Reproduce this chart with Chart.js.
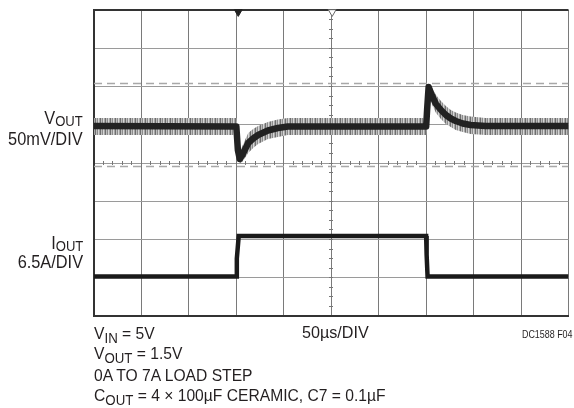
<!DOCTYPE html>
<html><head><meta charset="utf-8">
<script src="https://cdn.jsdelivr.net/npm/chart.js@4.4.1/dist/chart.umd.min.js"></script>
<style>
html,body{margin:0;padding:0;background:#fff;}
#wrap{position:relative;width:574px;height:408px;overflow:hidden;background:#fff;}
#c{position:absolute;left:0;top:0;}
.t{position:absolute;white-space:nowrap;font-family:"Liberation Sans",Arial,sans-serif;color:#231f20;}
.l{font-size:19px;line-height:19px;right:491px;transform:scaleX(0.86);transform-origin:right center;}
.b{font-size:17px;line-height:17px;left:94px;transform:scaleX(0.92);transform-origin:left center;}
.l .s{font-size:0.8em;position:relative;top:0.12em;}
.b .s{font-size:0.85em;position:relative;top:0.25em;}
</style>
</head><body>
<div id="wrap">
<canvas id="c" width="574" height="408"></canvas>
<div class="t l" style="top:108px">V<span class="s">OUT</span></div>
<div class="t l" style="top:129px">50mV/DIV</div>
<div class="t l" style="top:233px">I<span class="s">OUT</span></div>
<div class="t l" style="top:252px">6.5A/DIV</div>
<div class="t b" style="top:325px">V<span class="s">IN</span> = 5V</div>
<div class="t b" style="top:345px">V<span class="s">OUT</span> = 1.5V</div>
<div class="t b" style="top:367px">0A TO 7A LOAD STEP</div>
<div class="t b" style="top:387px">C<span class="s">OUT</span> = 4 × 100µF CERAMIC, C7 = 0.1µF</div>
<div class="t" style="top:324px;left:302px;font-size:17px;line-height:17px;transform:scaleX(0.95);transform-origin:left center;">50µs/DIV</div>
<div class="t" style="top:329px;right:1px;font-size:10.5px;line-height:10.5px;transform:scaleX(0.85);transform-origin:right center;">DC1588 F04</div>
</div>
<script>
// ---- data (x in µs, y in screen divisions from bottom) ----
const vTime = [0,150,151.6,153.6,156.25,162.5,167.7,172.9,183.3,193.75,204.2,350,351,352.6,356.25,360.4,365.6,370.8,376,381.25,388.5,396.9,412.5,500];
const vMid  = [4.967,4.954,4.340,4.105,4.209,4.523,4.641,4.732,4.850,4.915,4.954,4.954,5.386,5.987,5.752,5.542,5.386,5.255,5.163,5.098,5.033,4.993,4.967,4.967];
const vHigh = [5.176,5.176,4.758,4.288,4.444,4.784,4.889,4.967,5.072,5.137,5.176,5.176,5.647,6.065,5.961,5.778,5.621,5.490,5.386,5.320,5.255,5.216,5.176,5.176];
const vLow  = [4.732,4.732,4.131,4.000,4.026,4.261,4.392,4.497,4.627,4.680,4.732,4.732,5.072,5.856,5.516,5.307,5.150,5.020,4.941,4.863,4.810,4.758,4.732,4.732];
const iTime  = [0,150,150.5,152.5,350,350.5,351.5,500];
const iLevel = [1.03,1.03,1.5,2.09,2.09,1.6,1.03,1.03];
const cursorLevels = [6.08,3.91];
const triggerTimes = [152,251];
const triggerLevel = 7.95;
const timeRange = [0,500];
const divRange = [0,8];

const pts = (xs, ys) => xs.map((x, i) => ({x: x, y: ys[i]}));

// striped pattern for the noise envelope
const pc = document.createElement('canvas');
pc.width = 5; pc.height = 1;
const pctx = pc.getContext('2d');
['#6e6e6e','#bdbdbd','#8c8c8c','#d6d6d6','#a6a6a6'].forEach((c, i) => { pctx.fillStyle = c; pctx.fillRect(i, 0, 1, 1); });

const ctx = document.getElementById('c').getContext('2d');
const band = ctx.createPattern(pc, 'repeat');

new Chart(ctx, {
  type: 'line',
  data: {
    datasets: [
      {data: pts(vTime, vLow), borderWidth: 0, borderColor: 'rgba(0,0,0,0)', pointRadius: 0, fill: false, order: 5},
      {data: pts(vTime, vHigh), borderWidth: 0, borderColor: 'rgba(0,0,0,0)', pointRadius: 0, fill: 0, backgroundColor: band, order: 4},
      {data: pts(vTime, vMid), borderWidth: 6.5, borderColor: '#222', pointRadius: 0, fill: false, order: 1, borderJoinStyle: 'round'},
      {data: pts(iTime, iLevel), borderWidth: 4.5, borderColor: '#1a1a1a', pointRadius: 0, fill: false, order: 1},
      ...cursorLevels.map(L => ({data: pts(timeRange, [L, L]), borderWidth: 1.5, borderColor: '#a8a8a8', borderDash: [8,5], pointRadius: 0, fill: false, order: 6})),
      {data: pts(triggerTimes, triggerTimes.map(() => triggerLevel)), showLine: false, pointStyle: 'triangle', rotation: 180, pointRadius: 4.5,
       pointBackgroundColor: ['#222','#ffffff'], pointBorderColor: ['#222','#666'], pointBorderWidth: 1, clip: false, order: 0}
    ]
  },
  options: {
    responsive: false, animation: false, devicePixelRatio: 1,
    layout: {padding: {left: 94, top: 10, right: 0, bottom: 92}},
    plugins: {legend: {display: false}, tooltip: {enabled: false}},
    elements: {line: {tension: 0}},
    scales: {
      x: {type: 'linear', min: timeRange[0], max: timeRange[1],
          ticks: {display: false, stepSize: 50},
          grid: {drawTicks: false, color: c => (c.tick && c.tick.value === 0) ? '#333' : '#7a7a7a', lineWidth: 1},
          border: {display: true, color: '#333', width: 2}},
      y: {type: 'linear', min: divRange[0], max: divRange[1],
          ticks: {display: false, stepSize: 1},
          grid: {drawTicks: false, color: c => (c.tick && c.tick.value === 8) ? '#333' : '#9a9a9a',
                 lineWidth: c => (c.tick && c.tick.value === 8) ? 2 : 1},
          border: {display: true, color: '#333', width: 2}},
      yMinor: {type: 'linear', axis: 'y', position: {x: 252.08}, min: divRange[0], max: divRange[1],
          ticks: {display: false, stepSize: 0.25, maxTicksLimit: 100},
          grid: {drawOnChartArea: false, drawTicks: true, tickLength: 4, color: '#777'},
          border: {display: false}},
      xMinor: {type: 'linear', axis: 'x', position: {y: 4.052}, min: timeRange[0], max: timeRange[1],
          ticks: {display: false, stepSize: 10, maxTicksLimit: 100},
          grid: {drawOnChartArea: false, drawTicks: true, tickLength: 4, color: '#777'},
          border: {display: false}}
    }
  }
});
</script>
</body></html>
